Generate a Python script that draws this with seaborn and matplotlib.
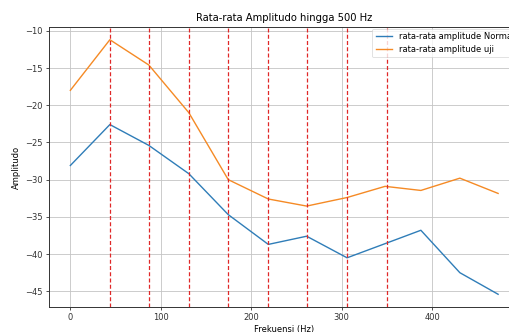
import matplotlib
matplotlib.use("Agg")
import matplotlib.pyplot as plt
import seaborn as sns
import pandas as pd

freq = [0, 43.7, 86.8, 131.0, 174.6, 218.9, 261.3, 306.0, 348.0, 387.6, 430.7, 473.0]
amp_normal = [-28.1, -22.6, -25.4, -29.2, -34.7, -38.7, -37.6, -40.5, -38.6, -36.8, -42.5, -45.4]
amp_uji = [-18.0, -11.2, -14.6, -21.0, -30.0, -32.6, -33.55, -32.4, -30.9, -31.45, -29.8, -31.85]
red_lines = [43.7, 86.8, 130.8, 174.6, 218.6, 261.5, 306.2, 349.8]

labels = ["rata-rata amplitude Normal", "rata-rata amplitude uji"]

df = pd.DataFrame({
    "freq": freq * 2,
    "amp": amp_normal + amp_uji,
    "series": [labels[0]] * len(freq) + [labels[1]] * len(freq),
})

fig = plt.figure(figsize=(5.10, 3.32), dpi=100)
ax = fig.add_axes([0.096, 0.0753, 1.0186 - 0.096, 0.9187 - 0.0753])

sns.lineplot(data=df, x="freq", y="amp", hue="series",
             palette=["#2f7db8", "#f58a25"], linewidth=1.0, ax=ax)

for f in red_lines:
    ax.axvline(f, color="#e02828", linestyle="--", linewidth=0.9, dashes=(3.2, 1.8))

ax.grid(True, color="#c4c4c4", linewidth=0.6)
ax.set_axisbelow(True)
ax.set_title("Rata-rata Amplitudo hingga 500 Hz", fontsize=7.2, pad=4)
ax.set_xlabel("Frekuensi (Hz)", fontsize=6, labelpad=2)
ax.set_ylabel("Amplitudo", fontsize=6, labelpad=3)
ax.tick_params(labelsize=6, width=0.6, length=2.5, pad=2, colors="#333333")
for s in ax.spines.values():
    s.set_visible(True)
    s.set_linewidth(0.7)
    s.set_color("#333333")
ax.set_xticks([0, 100, 200, 300, 400])
ax.set_yticks([-10, -15, -20, -25, -30, -35, -40, -45])

leg = ax.legend(loc="upper right", fontsize=6, title=None, frameon=True,
                borderaxespad=0.2, handlelength=2.0)
leg.get_frame().set_linewidth(0.5)
for line in leg.get_lines():
    line.set_linewidth(1.0)

fig.savefig("out.png", dpi=100)
